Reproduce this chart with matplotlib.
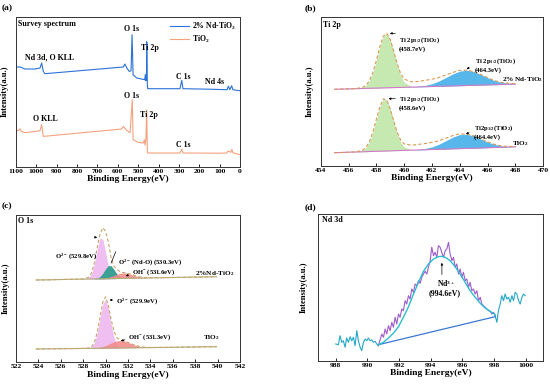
import matplotlib
matplotlib.use("Agg")
import matplotlib.pyplot as plt
import numpy as np

plt.rcParams['font.family'] = ['Liberation Serif', 'DejaVu Serif']
plt.rcParams['font.weight'] = 'bold'
plt.rcParams['mathtext.fontset'] = 'custom'
plt.rcParams['mathtext.rm'] = 'Liberation Serif:bold'
plt.rcParams['mathtext.it'] = 'Liberation Serif:bold:italic'
plt.rcParams['mathtext.bf'] = 'Liberation Serif:bold'

# ---------------- (a) survey spectra ----------------
survey_nd_x = [1100, 1080, 1056, 1007, 982, 974, 966, 958, 573, 565, 556, 544, 535, 530, 525, 507,
               480, 468, 465, 462, 459, 458, 455, 453, 295, 286, 280, 150, 100, 63, 57, 50, 41, 35, 20, 0]
survey_nd_y = [99.7, 99.7, 97.7, 97.7, 98.7, 103.7, 95.3, 93.0, 99.7, 102.7, 98.7, 95.3, 96.0, 132.0, 92.0, 88.7,
               87.5, 87.0, 92.0, 86.0, 95.0, 125.0, 82.0, 78.0, 78.0, 86.3, 78.0, 77.5, 77.2, 77.0, 80.5, 77.0, 81.0, 77.0, 76.5, 76.0]
survey_ti_x = [1100, 1090, 1080, 1075, 1056, 1015, 982, 974, 966, 581, 573, 556, 540, 529, 525, 499,
               475, 470, 466, 462, 458, 455, 295, 286, 280, 100, 65, 60, 45, 40, 35, 20, 0]
survey_ti_y = [37.0, 36.0, 38.0, 35.5, 34.0, 35.0, 36.0, 42.0, 30.3, 37.7, 40.3, 36.3, 34.0, 67.0, 27.0, 24.3,
               23.7, 27.0, 21.5, 28.0, 57.0, 13.7, 13.7, 17.7, 13.7, 13.5, 13.7, 15.5, 14.5, 17.5, 14.0, 13.0, 12.0]

# ---------------- (b) Ti 2p ----------------
ti_x = [455.0, 455.5, 456.0, 456.5, 457.0, 457.25, 457.5, 457.75, 458.0, 458.25, 458.5, 458.75, 459.0,
        459.25, 459.5, 459.75, 460.0, 460.5, 461.0, 461.5, 462.0, 462.5, 463.0, 463.5, 464.0, 464.5,
        465.0, 465.5, 466.0, 466.5, 467.0, 467.5, 468.0]
ti_nd_base = [76.7, 76.9, 77.1, 77.3, 77.5, 77.6, 77.7, 77.8, 77.9, 78.0, 78.1, 78.2, 78.3, 78.4, 78.5, 78.6,
              78.7, 78.9, 79.1, 79.3, 79.5, 79.7, 79.9, 80.1, 80.3, 80.5, 80.7, 80.9, 81.1, 81.3, 81.5, 81.8, 82.0]
ti_nd_p32 = [0, 0, 0, 0.1, 1.0, 3.0, 7.4, 15.6, 27.7, 41.3, 51.7, 54.5, 48.3, 35.9, 22.5, 11.8, 5.2, 0.6,
             0, 0, 0, 0, 0, 0, 0, 0, 0, 0, 0, 0, 0, 0, 0]
ti_nd_p12 = [0, 0, 0, 0, 0, 0, 0, 0, 0, 0, 0, 0, 0, 0, 0, 0, 0, 0.2, 0.5, 1.3, 2.8, 5.3, 8.6, 12.0, 14.6,
             15.3, 13.8, 10.7, 7.2, 4.1, 2.1, 0.9, 0.3]
ti_nd_env = [76.7, 76.9, 77.1, 77.4, 78.5, 80.6, 85.1, 93.4, 105.6, 119.3, 129.8, 132.7, 126.6, 114.8, 102.2,
             92.4, 86.9, 84.2, 84.6, 85.6, 86.8, 88.5, 91.0, 93.6, 95.7, 95.8, 94.5, 91.6, 88.3, 85.4, 83.6, 82.7, 82.3]
ti_ti_base = [13.3, 13.5, 13.8, 14.0, 14.2, 14.3, 14.5, 14.6, 14.7, 14.8, 14.9, 15.0, 15.1, 15.3, 15.4, 15.5,
              15.6, 15.8, 16.1, 16.3, 16.5, 16.7, 16.9, 17.2, 17.4, 17.6, 17.8, 18.0, 18.3, 18.5, 18.7, 19.0, 19.3]
ti_ti_p32 = [0, 0, 0, 0.1, 1.5, 4.2, 9.8, 19.3, 31.9, 44.3, 52.3, 50.9, 42.0, 29.2, 17.1, 8.4, 3.5, 0.4,
             0, 0, 0, 0, 0, 0, 0, 0, 0, 0, 0, 0, 0, 0, 0]
ti_ti_p12 = [0, 0, 0, 0, 0, 0, 0, 0, 0, 0, 0, 0, 0, 0, 0, 0, 0, 0.1, 0.4, 1.2, 2.6, 5.1, 8.4, 11.7, 14.0,
             14.2, 12.3, 9.1, 5.7, 3.1, 1.4, 0.5, 0.2]
ti_ti_env = [13.3, 13.5, 13.8, 14.1, 15.7, 18.5, 24.3, 33.9, 46.6, 59.1, 67.2, 65.9, 57.1, 45.0, 33.7,
             25.9, 22.1, 20.8, 21.5, 22.5, 23.6, 25.3, 27.8, 30.4, 32.2, 31.8, 30.1, 27.1, 24.0, 21.6, 20.1, 19.5, 19.5]

# ---------------- (c) O 1s ----------------
o_x = [523.8, 525.0, 526.0, 527.0, 528.0, 528.5, 528.75, 529.0, 529.25, 529.5, 529.75, 530.0, 530.25,
       530.5, 530.75, 531.0, 531.25, 531.5, 531.75, 532.0, 532.5, 533.0, 533.5, 534.0, 535.0, 536.0,
       537.0, 538.0, 539.0, 539.9]
o_nd_base = [82.3, 82.5, 82.8, 83.0, 83.2, 83.3, 83.3, 83.4, 83.4, 83.5, 83.5, 83.6, 83.6, 83.7, 83.7, 83.8,
             83.8, 83.9, 83.9, 84.0, 84.1, 84.2, 84.3, 84.4, 84.6, 84.8, 85.0, 85.2, 85.4, 85.6]
o_nd_lattice = [0, 0, 0, 0, 0, 1.4, 5.4, 15.2, 29.7, 40.8, 39.4, 26.7, 12.7, 4.2, 1.0, 0.2, 0, 0, 0, 0,
                0, 0, 0, 0, 0, 0, 0, 0, 0, 0]
o_nd_ndo = [0, 0, 0, 0, 0, 0, 0, 0.2, 0.7, 2.3, 5.5, 10.0, 13.2, 12.8, 9.1, 4.8, 1.8, 0.5, 0.1, 0,
            0, 0, 0, 0, 0, 0, 0, 0, 0, 0]
o_nd_oh = [0, 0, 0, 0, 0, 0, 0, 0, 0, 0.2, 0.4, 0.7, 1.3, 2.1, 3.1, 4.2, 5.0, 5.5, 5.4, 4.9, 2.9, 1.2,
           0.3, 0.1, 0, 0, 0, 0, 0, 0]
o_nd_env = [82.3, 82.5, 82.8, 83.0, 83.3, 85.0, 89.5, 99.5, 114.5, 128.0, 134.5, 131.0, 120.0, 104.0, 96.0,
            93.0, 91.0, 90.0, 89.5, 89.0, 87.2, 85.6, 84.8, 84.6, 84.6, 84.8, 85.0, 85.2, 85.4, 85.6]
o_ti_base = [13.3, 13.5, 13.6, 13.7, 13.9, 13.9, 14.0, 14.0, 14.0, 14.1, 14.1, 14.2, 14.2, 14.2, 14.3, 14.3,
             14.3, 14.4, 14.4, 14.4, 14.5, 14.6, 14.7, 14.7, 14.9, 15.0, 15.2, 15.3, 15.5, 15.6]
o_ti_lattice = [0, 0, 0, 0, 0, 0.3, 1.5, 5.5, 15.2, 29.7, 44.3, 48.7, 39.2, 23.2, 10.5, 3.4, 0.8, 0.1, 0, 0,
                0, 0, 0, 0, 0, 0, 0, 0, 0, 0]
o_ti_oh = [0, 0, 0, 0, 0, 0.1, 0.1, 0.3, 0.6, 1.0, 1.7, 2.6, 3.8, 5.1, 6.2, 7.1, 7.5, 7.3, 6.6, 5.5, 3.1,
           1.3, 0.4, 0.1, 0, 0, 0, 0, 0, 0]
o_ti_env = [13.3, 13.5, 13.6, 13.7, 13.9, 14.3, 15.6, 19.8, 29.8, 44.8, 60.1, 65.5, 57.2, 42.5, 31.0, 24.8,
            22.6, 21.8, 21.0, 19.9, 17.6, 15.9, 15.1, 14.8, 14.9, 15.0, 15.2, 15.3, 15.5, 15.6]

# ---------------- (d) Nd 3d ----------------
nd_bg_left_x = [988.00, 988.17, 988.27, 988.38, 988.48, 988.59, 988.69, 988.80, 988.91, 989.01, 989.12,
                989.22, 989.33, 989.43, 989.54, 989.64, 989.75, 989.85, 989.96, 990.06, 990.17, 990.27,
                990.38, 990.48, 990.59, 990.69]
nd_bg_left_y = [16.7, 16.0, 25.0, 18.4, 20.0, 13.4, 22.7, 18.4, 24.0, 20.0, 23.4, 15.0, 30.0, 20.0, 13.4,
                10.0, 18.4, 21.7, 20.0, 22.7, 20.0, 20.7, 18.4, 19.4, 16.7, 15.0]
nd_raw_x = [990.69, 990.91, 991.01, 991.12, 991.22, 991.33, 991.43, 991.54, 991.64, 991.75, 991.85, 991.96,
            992.06, 992.17, 992.27, 992.38, 992.48, 992.59, 992.69, 992.80, 992.91, 993.01, 993.12, 993.22,
            993.33, 993.43, 993.54, 993.64, 993.75, 993.85, 993.96, 994.06, 994.17, 994.27, 994.38, 994.48,
            994.59, 994.69, 994.80, 994.91, 995.01, 995.12, 995.22, 995.33, 995.43, 995.54, 995.64, 995.75,
            995.85, 995.96, 996.06, 996.17, 996.27, 996.38, 996.48, 996.59, 996.69, 996.80, 996.91, 997.01,
            997.12, 997.22, 997.33, 997.43, 997.54, 997.64, 997.75, 997.85, 997.96, 998.06]
nd_raw_y = [15.0, 26.7, 23.4, 31.7, 26.7, 35.0, 30.0, 38.4, 33.4, 43.4, 36.7, 46.7, 43.4, 51.7, 50.0, 60.0,
            56.7, 65.0, 61.7, 71.7, 68.4, 76.7, 75.0, 80.0, 77.4, 83.4, 86.7, 89.4, 86.7, 93.4, 100.0, 113.4,
            105.0, 108.4, 103.4, 115.0, 113.4, 108.4, 103.4, 110.0, 111.7, 118.4, 106.7, 100.0, 103.4, 93.4,
            96.7, 86.7, 91.7, 83.4, 88.4, 80.0, 81.7, 73.4, 78.4, 70.0, 71.7, 66.7, 70.0, 60.0, 63.4, 56.7,
            55.0, 53.4, 51.7, 50.0, 49.4, 46.7, 48.4, 45.0]
nd_bg_right_x = [998.06, 998.17, 998.27, 998.38, 998.48, 998.59, 998.69, 998.80, 998.91, 999.01, 999.12,
                 999.22, 999.33, 999.43, 999.54, 999.64, 999.75, 999.85, 999.96]
nd_bg_right_y = [45.0, 38.4, 50.0, 56.7, 65.0, 60.0, 66.7, 61.7, 63.4, 58.4, 65.0, 60.0, 68.4, 66.7, 60.0,
                 56.7, 63.4, 66.7, 65.0]
nd_fit_x = [990.69, 991.01, 991.33, 991.64, 991.96, 992.27, 992.59, 992.91, 993.22, 993.54, 993.85, 994.17,
            994.48, 994.69, 994.91, 995.22, 995.54, 995.85, 996.17, 996.48, 996.80, 997.12, 997.43, 997.75, 998.06]
nd_fit_y = [16.0, 18.4, 22.7, 27.4, 34.0, 43.4, 54.0, 66.7, 78.4, 89.4, 96.7, 101.7, 104.0, 104.4, 103.4,
            100.0, 94.0, 86.7, 78.4, 70.0, 63.4, 57.4, 52.7, 49.4, 46.0]
nd_line_x = [990.69, 998.06]
nd_line_y = [16.0, 44.0]

# ---------------- figure ----------------
fig = plt.figure(figsize=(5.5, 3.88), dpi=100)
W, H = 550.0, 388.0

def make_ax(l, r, t, b):
    return fig.add_axes([l / W, 1 - b / H, (r - l) / W, (b - t) / H])

axA = make_ax(16, 240, 16.7, 166.7)
axB = make_ax(320.7, 543.3, 17.3, 166.0)
axC = make_ax(16, 240, 214.7, 362.3)
axD = make_ax(318.3, 543.3, 214.0, 360.7)

tick_fs = 5.4
lab_fs = 6.8
ann_fs = 4.8

def style(ax, xlim, ylim, ticks, ylab_x):
    ax.set_xlim(*xlim)
    ax.set_ylim(*ylim)
    ax.set_xticks(ticks)
    ax.set_yticks([])
    ax.tick_params(axis='x', direction='in', length=2.5, width=0.6, pad=1.5, labelsize=tick_fs)
    for lbl in ax.get_xticklabels():
        lbl.set_fontweight('bold')
    for s in ax.spines.values():
        s.set_linewidth(0.7)
        s.set_color('#333333')
    ax.set_xlabel('Binding Energy(eV)', fontsize=lab_fs, fontweight='bold', labelpad=1.0)
    ax.set_ylabel('Intensity(a.u.)', fontsize=6.2, fontweight='bold')
    ax.yaxis.set_label_coords(ylab_x, 0.5)

# (a)
blue_c = '#2a72d8'
orange_c = '#f4a27e'
axA.plot(survey_nd_x, survey_nd_y, color=blue_c, lw=0.8, label='2% Nd-TiO$_2$')
axA.plot(survey_ti_x, survey_ti_y, color=orange_c, lw=0.8, label='TiO$_2$')
style(axA, (1100, 0), (0, 150), list(range(1100, -1, -100)), -7 / 224)
axA.legend(loc='upper right', frameon=False, handlelength=2.4, borderaxespad=0.15,
           labelspacing=0.15, handletextpad=0.4, prop={'weight': 'bold', 'size': 5.6})
tk = dict(fontsize=5.7, fontweight='bold', va='center')
axA.text(1090, 142.7, 'Survey spectrum', ha='left', **tk)
axA.text(1056, 109.7, 'Nd 3d, O KLL', ha='left', **tk)
axA.text(533, 137.4, 'O 1s', ha='center', **tk)
axA.text(443, 118.4, 'Ti 2p', ha='center', **tk)
axA.text(280, 90.0, 'C 1s', ha='center', **tk)
axA.text(123, 84.4, 'Nd 4s', ha='center', **tk)
axA.text(958, 47.4, 'O KLL', ha='center', **tk)
axA.text(533, 70.7, 'O 1s', ha='center', **tk)
axA.text(446, 51.7, 'Ti 2p', ha='center', **tk)
axA.text(278, 21.7, 'C 1s', ha='center', **tk)

# (b)
green_c = '#c6e9b2'
sky_c = '#58b7ea'
base_c = '#d07ac8'
env_c = '#d99a55'
tx = np.array(ti_x)
for base, p32, p12, env in [(ti_nd_base, ti_nd_p32, ti_nd_p12, ti_nd_env),
                             (ti_ti_base, ti_ti_p32, ti_ti_p12, ti_ti_env)]:
    b = np.array(base)
    axB.fill_between(tx, b, b + np.array(p32), color=green_c, lw=0)
    axB.fill_between(tx, b, b + np.array(p12), color=sky_c, lw=0)
    axB.plot(tx, b, color=base_c, lw=0.8)
    axB.plot(tx, env, color=env_c, lw=0.8, ls=(0, (3, 2)))
style(axB, (454, 470), (0, 148.7), list(range(454, 471, 2)), -7.4 / 222.6)
bk = dict(fontsize=ann_fs, fontweight='bold', ha='left', va='center')
arr = dict(arrowstyle='-|>', color='black', lw=0.5, mutation_scale=3)
axB.text(454.17, 141, 'Ti 2p', fontsize=5.8, fontweight='bold', ha='left', va='center')
axB.text(459.63, 126, 'Ti 2p$_{3/2}$(TiO$_2$)', **bk)
axB.text(459.63, 116.7, '(458.7eV)', **bk)
axB.annotate('', xy=(458.77, 132.7), xytext=(459.56, 132.5), arrowprops=arr)
axB.text(465.09, 105, 'Ti 2p$_{1/2}$(TiO$_2$)', **bk)
axB.text(465.09, 96, '(464.3eV)', **bk)
axB.annotate('', xy=(464.32, 95.3), xytext=(464.85, 100), arrowprops=arr)
axB.text(467.01, 86.7, '2% Nd-TiO$_2$', fontsize=5.2, fontweight='bold', ha='left', va='center')
axB.text(459.63, 67, 'Ti 2p$_{3/2}$(TiO$_2$)', **bk)
axB.text(459.63, 57.7, '(458.6eV)', **bk)
axB.annotate('', xy=(458.68, 67.3), xytext=(459.56, 67.3), arrowprops=arr)
axB.text(465.01, 37.7, 'Ti2p$_{1/2}$(TiO$_2$)', **bk)
axB.text(465.01, 29.3, '(464.4eV)', **bk)
axB.annotate('', xy=(464.25, 31.0), xytext=(464.85, 34.3), arrowprops=arr)
axB.text(467.73, 22, 'TiO$_2$', fontsize=5.2, fontweight='bold', ha='left', va='center')

# (c)
pink_c = '#f0bff2'
teal_c = '#3b9f94'
red_c = '#f28c8c'
cbase_c = '#b0ad7a'
cenv_c = '#c9a46a'
ox = np.array(o_x)
b = np.array(o_nd_base)
axC.fill_between(ox, b, b + np.array(o_nd_lattice), color=pink_c, lw=0)
axC.fill_between(ox, b, b + np.array(o_nd_ndo), color=teal_c, lw=0)
axC.fill_between(ox, b, b + np.array(o_nd_oh), color=red_c, lw=0, alpha=0.9)
axC.plot(ox, b, color=cbase_c, lw=0.8)
axC.plot(ox, o_nd_env, color=cenv_c, lw=0.8, ls=(0, (3, 2)))
b = np.array(o_ti_base)
axC.fill_between(ox, b, b + np.array(o_ti_lattice), color=pink_c, lw=0)
axC.fill_between(ox, b, b + np.array(o_ti_oh), color=red_c, lw=0, alpha=0.9)
axC.plot(ox, b, color=cbase_c, lw=0.8)
axC.plot(ox, o_ti_env, color=cenv_c, lw=0.8, ls=(0, (3, 2)))
style(axC, (522, 542), (0, 147.6), list(range(522, 543, 2)), -6 / 224)
axC.text(522.18, 141.6, 'O 1s', fontsize=5.8, fontweight='bold', ha='left', va='center')
axC.annotate('', xy=(529.5, 125), xytext=(528.76, 125), arrowprops=arr)
axC.text(525.48, 106.6, 'O$^{2-}$ (529.8eV)', **bk)
axC.annotate('', xy=(530.4, 96.6), xytext=(531.0, 113.3),
             arrowprops=dict(arrowstyle='-', color='black', lw=0.5))
axC.text(531.13, 100, 'O$^{2-}$ (Nd-O) (530.3eV)', **bk)
axC.text(532.33, 90, 'OH$^{-}$ (531.6eV)', **bk)
axC.annotate('', xy=(531.58, 85), xytext=(532.24, 88.3), arrowprops=arr)
axC.text(537.98, 89, '2%Nd-TiO$_2$', fontsize=5.2, fontweight='bold', ha='left', va='center')
axC.text(530.93, 61.6, 'O$^{2-}$ (529.9eV)', **bk)
axC.annotate('', xy=(530.1, 62.3), xytext=(530.84, 62.3), arrowprops=arr)
axC.text(532.03, 25, 'OH$^{-}$ (531.3eV)', **bk)
axC.annotate('', xy=(531.13, 20.6), xytext=(531.97, 23.3), arrowprops=arr)
axC.text(538.7, 24.3, 'TiO$_2$', fontsize=5.2, fontweight='bold', ha='left', va='center')

# (d)
raw_c = '#25a7c8'
purple_c = '#9d5cc9'
fit_c = '#2abdd0'
line_c = '#3a78d0'
axD.plot(nd_bg_left_x, nd_bg_left_y, color=raw_c, lw=0.8)
axD.plot(nd_raw_x, nd_raw_y, color=purple_c, lw=0.8)
axD.plot(nd_bg_right_x, nd_bg_right_y, color=raw_c, lw=0.8)
axD.plot(nd_line_x, nd_line_y, color=line_c, lw=0.9)
axD.plot(nd_fit_x, nd_fit_y, color=fit_c, lw=1.0)
style(axD, (986.9, 1001.1), (0, 146.7), list(range(988, 1001, 2)), -10.6 / 225)
axD.text(987.11, 140.7, 'Nd 3d', fontsize=5.8, fontweight='bold', ha='left', va='center')
axD.annotate('', xy=(994.7, 100.7), xytext=(994.7, 83.4), arrowprops=arr)
axD.text(994.96, 77.4, 'Nd$^{3+}$', fontsize=5.6, fontweight='bold', ha='center', va='center')
axD.text(994.85, 67.4, '(994.6eV)', fontsize=5.6, fontweight='bold', ha='center', va='center')

# panel letters
for lbl, x, y in [('(a)', 2, 8.3), ('(b)', 305, 8.3), ('(c)', 2, 205.7), ('(d)', 305, 206.7)]:
    fig.text(x / W, 1 - y / H, lbl, fontsize=6.8, fontweight='bold', ha='left', va='center')

fig.savefig('out.png', dpi=100)
